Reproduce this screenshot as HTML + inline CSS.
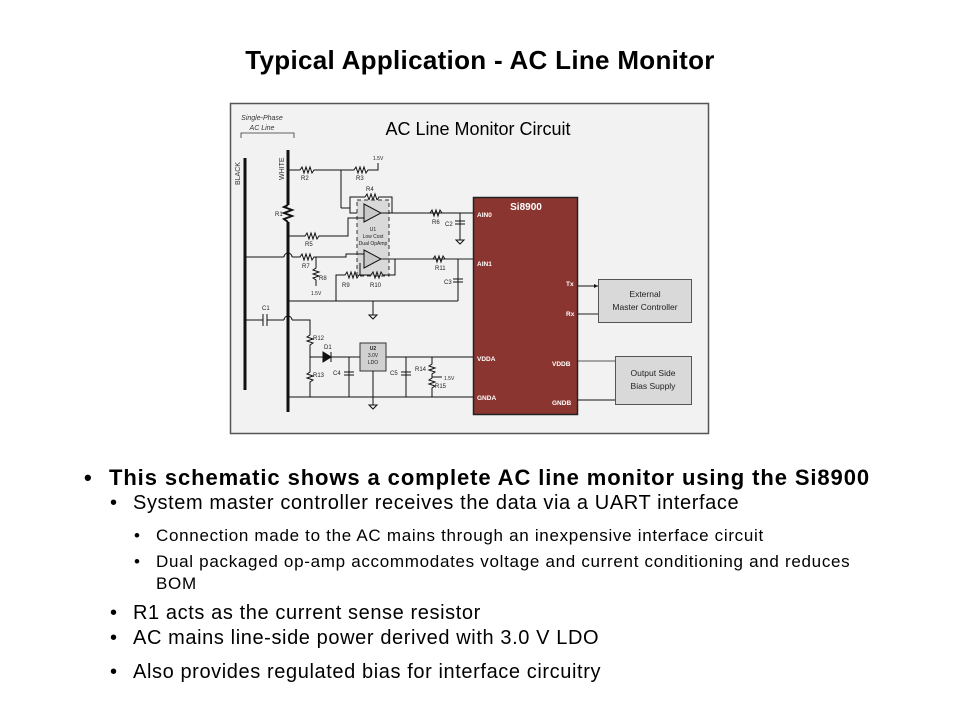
<!DOCTYPE html>
<html><head><style>
body{margin:0;width:960px;height:720px;background:#fff;font-family:"Liberation Sans",sans-serif;position:relative;overflow:hidden}
.t{position:absolute;white-space:nowrap;color:#000}
.l1{font-size:22px;font-weight:bold;letter-spacing:0.9px}
.l2{font-size:20px;letter-spacing:0.6px}
.l3{font-size:17px;letter-spacing:0.7px}
</style></head><body>
<div class="t" style="left:0;width:960px;text-align:center;top:45px;font-size:26px;font-weight:bold;letter-spacing:0.3px">Typical Application - AC Line Monitor</div>
<svg width="960" height="720" style="position:absolute;left:0;top:0" font-family="Liberation Sans, sans-serif">
<rect x="230.5" y="103.5" width="478" height="330" fill="#f2f2f2" stroke="#555" stroke-width="1.5"/>
<text x="478" y="135" font-size="18" text-anchor="middle">AC Line Monitor Circuit</text>
<text x="262" y="120" font-size="7" font-style="italic" text-anchor="middle" fill="#333">Single-Phase</text>
<text x="262" y="130" font-size="7" font-style="italic" text-anchor="middle" fill="#333">AC Line</text>
<path d="M241,138 V133 H294 V138" fill="none" stroke="#333" stroke-width="0.8"/>
<text transform="translate(240,185) rotate(-90)" font-size="7" fill="#333">BLACK</text>
<text transform="translate(284,180) rotate(-90)" font-size="7" fill="#333">WHITE</text>
<g stroke="#111" stroke-width="1" fill="none">
<line x1="245" y1="158" x2="245" y2="390" stroke-width="3"/>
<line x1="288" y1="150" x2="288" y2="205" stroke-width="3"/>
<line x1="288" y1="222" x2="288" y2="412" stroke-width="3"/>
<polyline points="288,205 284,207 292,210 284,213 292,216 284,219 288,222" stroke-width="2"/>
<polyline points="288,170 300,170 302,167 304,173 306,167 308,173 310,167 312,173 314,170 350,170 354,170 356,167 358,173 360,167 362,173 364,167 366,173 368,170 378,170 378,163"/>
<line x1="341" y1="170" x2="341" y2="208"/>
<path d="M341,208 H350 V213 H358"/>
<polyline points="350,208 350,197 365,197 367,194 369,200 371,194 373,200 375,194 377,200 379,197 392,197 392,213"/>
<rect x="357" y="200" width="32" height="76" fill="#d9d9d9" stroke="#333" stroke-dasharray="4,3"/>
<polygon points="364,204 364,222 381,213" fill="#c8c8c8"/>
<polygon points="364,250 364,268 381,259" fill="#c8c8c8"/>
<line x1="381" y1="213" x2="473" y2="213"/>
<polyline points="430,213 432,210 434,216 436,210 438,216 440,210 442,213"/>
<line x1="460" y1="213" x2="460" y2="240"/>
<line x1="455" y1="221" x2="465" y2="221"/><line x1="455" y1="224" x2="465" y2="224"/>
<polygon points="456,240 464,240 460,244"/>
<polyline points="288,236 305,236 307,233 309,239 311,233 313,239 315,233 317,239 319,236 348,236 348,218 364,218"/>
<polyline points="245,257 284,257"/><path d="M284,257 a4,4 0 0 1 8,0"/>
<polyline points="292,257 300,257 302,254 304,260 306,254 308,260 310,254 312,260 314,257 346,257 346,254 364,254"/>
<polyline points="316,257 316,268 313,270 319,272 313,274 319,276 313,278 316,280 316,286"/>
<polyline points="381,259 473,259" stroke="#666" stroke-width="1.5"/>
<polyline points="433,259 435,256 437,262 439,256 441,262 443,256 445,259"/>
<line x1="458" y1="259" x2="458" y2="301"/>
<line x1="453" y1="279" x2="463" y2="279"/><line x1="453" y1="282" x2="463" y2="282"/>
<polyline points="336,301 336,275 345,275 347,272 349,278 351,272 353,278 355,272 357,278 359,275 371,275 373,272 375,278 377,272 379,278 381,272 383,275 395,275 395,259"/>
<line x1="360" y1="275" x2="360" y2="263"/>
<line x1="288" y1="301" x2="458" y2="301"/>
<line x1="373" y1="301" x2="373" y2="315"/><polygon points="369,315 377,315 373,319"/>
<line x1="245" y1="320" x2="263" y2="320"/><line x1="263" y1="314" x2="263" y2="326"/><line x1="267" y1="314" x2="267" y2="326"/>
<polyline points="267,320 284,320"/><path d="M284,320 a4,4 0 0 1 8,0"/>
<polyline points="292,320 310,320 310,335 307,337 313,339 307,341 313,343 310,345 310,372 307,374 313,376 307,378 313,380 310,382 310,397"/>
<line x1="310" y1="357" x2="473" y2="357"/>
<polygon points="323,352 323,362 331,357" fill="#111"/><line x1="331" y1="352" x2="331" y2="362"/>
<rect x="360" y="343" width="26" height="28" fill="#d0d0d0" stroke="#333"/>
<line x1="349" y1="357" x2="349" y2="397"/><line x1="344" y1="372" x2="354" y2="372"/><line x1="344" y1="375" x2="354" y2="375"/>
<line x1="373" y1="371" x2="373" y2="397"/>
<line x1="406" y1="357" x2="406" y2="397"/><line x1="401" y1="372" x2="411" y2="372"/><line x1="401" y1="375" x2="411" y2="375"/>
<polyline points="432,357 432,364 429,366 435,368 429,370 435,372 432,374 432,378 429,380 435,382 429,384 435,386 432,388 432,397"/>
<line x1="432" y1="377" x2="442" y2="377"/>
<line x1="288" y1="397" x2="473" y2="397"/>
<line x1="373" y1="397" x2="373" y2="405"/><polygon points="369,405 377,405 373,409"/>
<line x1="578" y1="286" x2="598" y2="286"/>
<line x1="578" y1="314" x2="598" y2="314" stroke="#666" stroke-width="1.5"/>
<line x1="578" y1="361" x2="615" y2="361" stroke="#555"/>
<line x1="578" y1="400" x2="615" y2="400"/>
</g>
<polygon points="598,286 594,284 594,288" fill="#111"/>
<g font-size="6" fill="#222">
<text x="301" y="180">R2</text><text x="356" y="180">R3</text><text x="373" y="160" font-size="5">1.5V</text>
<text x="366" y="191">R4</text><text x="275" y="216">R1</text><text x="305" y="246">R5</text>
<text x="302" y="268">R7</text><text x="319" y="280">R8</text><text x="311" y="295" font-size="5">1.5V</text>
<text x="342" y="287">R9</text><text x="370" y="287">R10</text>
<text x="432" y="224">R6</text><text x="445" y="226">C2</text><text x="435" y="270">R11</text><text x="444" y="284">C3</text>
<text x="262" y="310">C1</text><text x="313" y="340">R12</text><text x="324" y="349">D1</text><text x="313" y="377">R13</text>
<text x="333" y="375">C4</text><text x="390" y="375">C5</text><text x="415" y="371">R14</text><text x="435" y="388">R15</text><text x="444" y="380" font-size="5">1.5V</text>
<text x="373" y="350" font-size="5" text-anchor="middle" font-weight="bold">U2</text><text x="373" y="357" font-size="5" text-anchor="middle">3.0V</text><text x="373" y="364" font-size="5" text-anchor="middle">LDO</text>
<text x="373" y="231" font-size="5" text-anchor="middle">U1</text><text x="373" y="238" font-size="5" text-anchor="middle">Low Cost</text><text x="373" y="245" font-size="5" text-anchor="middle">Dual OpAmp</text>
</g>
<rect x="473.5" y="197.5" width="104" height="217" fill="#8b3530" stroke="#222" stroke-width="1.5"/>
<text x="526" y="210" font-size="10" font-weight="bold" fill="#fff" text-anchor="middle">Si8900</text>
<g font-size="6.5" font-weight="bold" fill="#fff">
<text x="477" y="217">AIN0</text><text x="477" y="266">AIN1</text><text x="477" y="361">VDDA</text><text x="477" y="400">GNDA</text>
<text x="566" y="286">Tx</text><text x="566" y="316">Rx</text><text x="552" y="366">VDDB</text><text x="552" y="405">GNDB</text>
</g>
<rect x="598.5" y="279.5" width="93" height="43" fill="#d9d9d9" stroke="#555"/>
<text x="645" y="297" font-size="8.5" text-anchor="middle" fill="#222">External</text>
<text x="645" y="310" font-size="8.5" text-anchor="middle" fill="#222">Master Controller</text>
<rect x="615.5" y="356.5" width="76" height="48" fill="#d9d9d9" stroke="#555"/>
<text x="653" y="376" font-size="8.5" text-anchor="middle" fill="#222">Output Side</text>
<text x="653" y="389" font-size="8.5" text-anchor="middle" fill="#222">Bias Supply</text>
</svg>
<div class="t l1" style="left:84px;top:465px">•</div><div class="t l1" style="left:109px;top:465px">This schematic shows a complete AC line monitor using the Si8900</div>
<div class="t l2" style="left:110px;top:492px">•</div><div class="t l2" style="left:133px;top:492px">System master controller receives the data via a UART interface</div>
<div class="t l3" style="left:134px;top:526px">•</div><div class="t l3" style="left:156px;top:526px">Connection made to the AC mains through an inexpensive interface circuit</div>
<div class="t l3" style="left:134px;top:552px">•</div><div class="t l3" style="left:156px;top:552px">Dual packaged op-amp accommodates voltage and current conditioning and reduces</div>
<div class="t l3" style="left:156px;top:574px">BOM</div>
<div class="t l2" style="left:110px;top:602px">•</div><div class="t l2" style="left:133px;top:602px">R1 acts as the current sense resistor</div>
<div class="t l2" style="left:110px;top:627px">•</div><div class="t l2" style="left:133px;top:627px">AC mains line-side power derived with 3.0 V LDO</div>
<div class="t l2" style="left:110px;top:661px">•</div><div class="t l2" style="left:133px;top:661px">Also provides regulated bias for interface circuitry</div>
</body></html>
